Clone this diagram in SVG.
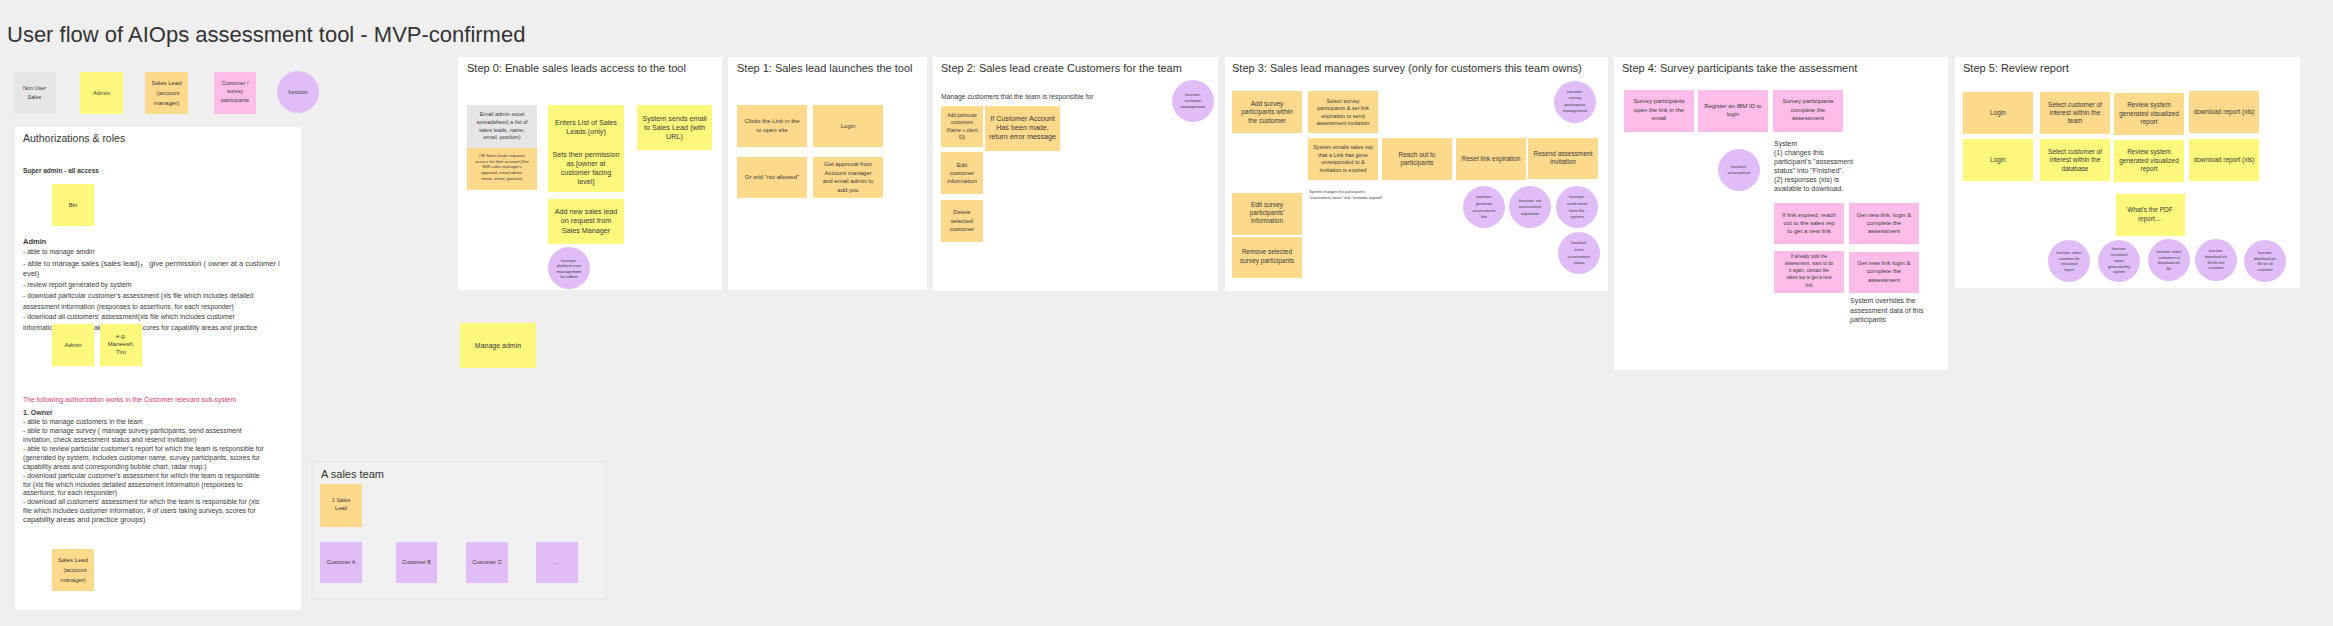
<svg xmlns="http://www.w3.org/2000/svg" width="2333" height="626" viewBox="0 0 2333 626">
<style>
text{font-family:"Liberation Sans","Noto Sans CJK SC",sans-serif;fill:#3a3a3a}
.bg{fill:#efefef}
.panel{fill:#ffffff}
.team{fill:#f0f0f0;stroke:#e3e3e3;stroke-width:1}
.y{fill:#fbf87c}
.o{fill:#fdd98b}
.p{fill:#fdbde8}
.g{fill:#e6e6e6}
.v{fill:#e0bdf7}
.pu{fill:#e1bdf8}
.c{text-anchor:middle}
.h1{font-size:22px;fill:#333}
.h2{font-size:11px;fill:#333}
.h3{font-size:10.5px;fill:#333}
.b{font-weight:bold}
.f3{font-size:3.8px}
.f4{font-size:4.2px}
.f45{font-size:4.6px}
.f5{font-size:5.5px}
.f6{font-size:6px}
.f65{font-size:6.5px}
.f68{font-size:6.8px}
.f7{font-size:7.2px}
.red{fill:#d63b74}
</style>
<rect class="bg" x="0" y="0" width="2333" height="626"/>
<text class="h1" x="7" y="42">User flow of AIOps assessment tool - MVP-confirmed</text>

<g id="legend">
  <g id="leg-nonuser"><rect class="g" x="13" y="72" width="43" height="42"/><text class="c f5" x="34.5" y="90">Non User</text><text class="c f5" x="34.5" y="99">Sales</text></g>
  <g id="leg-admin"><rect class="y" x="80" y="72" width="43" height="42"/><text class="c f6" x="101.5" y="95">Admin</text></g>
  <g id="leg-saleslead"><rect class="o" x="145" y="72" width="43" height="42"/><text class="c f6" x="166.5" y="85">Sales Lead</text><text class="c f6" x="168" y="95">(account</text><text class="c f6" x="166.5" y="105">manager)</text></g>
  <g id="leg-customer"><rect class="p" x="214" y="72" width="42" height="42"/><text class="c f5" x="235" y="85">Customer /</text><text class="c f5" x="235" y="93">survey</text><text class="c f5" x="235" y="102">participants</text></g>
  <g id="leg-function"><circle class="v" cx="298" cy="92" r="21"/><text class="c f5" x="298" y="94">function</text></g>
</g>

<g id="auth-panel">
  <rect class="panel" x="15" y="127" width="286" height="483"/>
  <text class="h3" x="23" y="142">Authorizations &amp; roles</text>
  <text class="b f65" x="23" y="173">Super admin - all access</text>
  <text class="b" x="23" y="244" font-size="7.5">Admin</text>
  <text class="f68" x="23" y="254">- able to manage amdin</text>
  <text x="23" y="266" font-size="7.5">- able to manage sales (sales lead)，  give permission ( owner at a customer l</text>
  <text x="23" y="276" font-size="7.5">evel)</text>
  <text class="f68" x="23" y="287">- review report generated by system</text>
  <text class="f68" x="23" y="298">- download particular customer's assessment (xls file which includes detailed</text>
  <text class="f68" x="23" y="309">assessment information (responses to assertions, for each responder)</text>
  <text class="f68" x="23" y="319">- download all customers' assessment(xls file which includes customer</text>
  <text class="f68" x="23" y="330">information, # of users taking surveys, scores for capability areas and practice</text>
  <text class="f68 red" x="23" y="402">The following authorization works in the Customer relevant sub-system</text>
  <text class="b" x="23" y="415" font-size="7">1. Owner</text>
  <text class="f68" x="23" y="424">- able to manage customers in the team</text>
  <text class="f68" x="23" y="433">- able to manage survey ( manage survey participants, send assessment</text>
  <text class="f68" x="23" y="442">invitation, check assessment status and resend invitation)</text>
  <text class="f68" x="23" y="451">- able to review particular customer's report for which the team is responsible for</text>
  <text class="f68" x="23" y="460">(generated by system, includes customer name, survey participants, scores for</text>
  <text class="f68" x="23" y="469">capability areas and corresponding bubble chart, radar map.)</text>
  <text class="f68" x="23" y="478">- download particular customer's assessment for which the team is responsible</text>
  <text class="f68" x="23" y="487">for (xls file which includes detailed assessment information (responses to</text>
  <text class="f68" x="23" y="495">assertions, for each responder)</text>
  <text class="f68" x="23" y="504">- download all customers' assessment for whch the team is responsible for (xls</text>
  <text class="f68" x="23" y="513">file which includes customer information, # of users taking surveys, scores for</text>
  <text x="23" y="522" font-size="7.5">capability areas and practice groups)</text>
  <g id="auth-bin"><rect class="y" x="52" y="184" width="42" height="42"/><text class="c f6" x="73" y="207">Bin</text></g>
  <g id="auth-admin"><rect class="y" x="52" y="324" width="42" height="42"/><text class="c f6" x="73" y="347">Admin</text></g>
  <g id="auth-eg"><rect class="y" x="100" y="324" width="42" height="42"/><text class="c f6" x="121" y="338">e.g.</text><text class="c f6" x="121" y="346">Maneesh,</text><text class="c f6" x="121" y="354">Tim</text></g>
  <g id="auth-saleslead"><rect class="o" x="52" y="549" width="42" height="42"/><text class="c f6" x="73" y="562">Sales Lead</text><text class="c f6" x="75" y="572">(account</text><text class="c f6" x="73" y="582">manager)</text></g>
</g>

<g id="step0">
  <rect class="panel" x="458" y="57" width="264" height="233"/>
  <text class="h2" x="467" y="72">Step 0: Enable sales leads access to the tool</text>
  <g id="s0-email"><rect class="g" x="467" y="105" width="70" height="43"/><text class="c f5" x="502"><tspan x="502" y="116">Email admin excel</tspan><tspan x="502" y="124">spreadsheet( a list of</tspan><tspan x="502" y="132">sales leads, name,</tspan><tspan x="502" y="139">email, position)</tspan></text></g>
  <g id="s0-or"><rect class="o" x="467" y="148" width="70" height="42"/><text class="c f4" x="502"><tspan x="502" y="157">OR Sales leads requests</tspan><tspan x="502" y="162.5">access for their account (Got</tspan><tspan x="502" y="168">WW sales manager's</tspan><tspan x="502" y="174">approval, email admin,</tspan><tspan x="502" y="180">name, email, position)</tspan></text></g>
  <g id="s0-enters"><rect class="y" x="548" y="105" width="76" height="87"/><text class="c f7" x="586"><tspan x="586" y="125">Enters List of Sales</tspan><tspan x="586" y="134">Leads (only)</tspan><tspan x="586" y="157">Sets their permission</tspan><tspan x="586" y="166">as [owner at</tspan><tspan x="586" y="175">customer facing</tspan><tspan x="586" y="184">level]</tspan></text></g>
  <g id="s0-add"><rect class="y" x="548" y="199" width="76" height="45"/><text class="c f7" x="586"><tspan x="586" y="214">Add new sales lead</tspan><tspan x="586" y="223">on request from</tspan><tspan x="586" y="233">Sales Manager</tspan></text></g>
  <g id="s0-func"><circle class="v" cx="569" cy="268" r="21"/><text class="c f4" x="569"><tspan x="569" y="262">function:</tspan><tspan x="569" y="267">platform user</tspan><tspan x="569" y="272.5">management</tspan><tspan x="569" y="278">for admin</tspan></text></g>
  <g id="s0-system"><rect class="y" x="637" y="105" width="75" height="45"/><text class="c f7" x="674.5"><tspan x="674.5" y="121">System sends email</tspan><tspan x="674.5" y="130">to Sales Lead (with</tspan><tspan x="674.5" y="139">URL)</tspan></text></g>
</g>

<g id="manage-admin"><rect class="y" x="460" y="323" width="76" height="45"/><text class="c" x="498" y="348" font-size="7">Manage admin</text></g>

<g id="step1">
  <rect class="panel" x="728" y="57" width="199" height="233"/>
  <text class="h2" x="737" y="72">Step 1: Sales lead launches the tool</text>
  <g id="s1-click"><rect class="o" x="737" y="105" width="70" height="42"/><text class="c f6" x="772"><tspan x="772" y="123">Clicks the Link in the</tspan><tspan x="772" y="132">to open site</tspan></text></g>
  <g id="s1-login"><rect class="o" x="813" y="105" width="70" height="42"/><text class="c f6" x="848" y="128">Login</text></g>
  <g id="s1-notallowed"><rect class="o" x="737" y="157" width="70" height="41"/><text class="c f6" x="772" y="179">Or told "not allowed"</text></g>
  <g id="s1-approval"><rect class="o" x="813" y="157" width="70" height="41"/><text class="c f6" x="848"><tspan x="848" y="166">Get approval from</tspan><tspan x="848" y="175">Account manager</tspan><tspan x="848" y="183">and email admin to</tspan><tspan x="848" y="192">add you</tspan></text></g>
</g>

<g id="step2">
  <rect class="panel" x="933" y="57" width="285" height="234"/>
  <text class="h2" x="941" y="72">Step 2: Sales lead create Customers for the team</text>
  <text x="941" y="99" font-size="6.8">Manage customers that the team is responsible for</text>
  <g id="s2-func"><circle class="v" cx="1193" cy="101" r="21"/><text class="c f4" x="1193"><tspan x="1193" y="96">function:</tspan><tspan x="1193" y="102">customer</tspan><tspan x="1193" y="108">management</tspan></text></g>
  <g id="s2-add"><rect class="o" x="941" y="106" width="42" height="41"/><text class="c" x="962" font-size="4.8"><tspan x="962" y="117">Add particular</tspan><tspan x="962" y="124">customers</tspan><tspan x="962" y="132">(Name + client</tspan><tspan x="962" y="139">ID)</tspan></text></g>
  <g id="s2-error"><rect class="o" x="985" y="106" width="75" height="45"/><text class="c f7" x="1022.5"><tspan x="1022.5" y="121">If Customer Account</tspan><tspan x="1022.5" y="130">Has been made,</tspan><tspan x="1022.5" y="139">return error message</tspan></text></g>
  <g id="s2-edit"><rect class="o" x="941" y="152" width="42" height="42"/><text class="c f6" x="962"><tspan x="962" y="167">Edit</tspan><tspan x="962" y="175">customer</tspan><tspan x="962" y="183">information</tspan></text></g>
  <g id="s2-delete"><rect class="o" x="941" y="200" width="42" height="42"/><text class="c f6" x="962"><tspan x="962" y="214">Delete</tspan><tspan x="962" y="223">selected</tspan><tspan x="962" y="231">customer</tspan></text></g>
</g>

<g id="step3">
  <rect class="panel" x="1225" y="57" width="383" height="234"/>
  <text class="h2" x="1232" y="72">Step 3: Sales lead manages survey (only for customers this team owns)</text>
  <g id="s3-add"><rect class="o" x="1232" y="91" width="70" height="42"/><text class="c f65" x="1267"><tspan x="1267" y="106">Add survey</tspan><tspan x="1267" y="114">participants within</tspan><tspan x="1267" y="123">the customer</tspan></text></g>
  <g id="s3-select"><rect class="o" x="1308" y="91" width="70" height="42"/><text class="c f5" x="1343"><tspan x="1343" y="103">Select survey</tspan><tspan x="1343" y="110">participants &amp; set link</tspan><tspan x="1343" y="118">expiration to send</tspan><tspan x="1343" y="125">assessment invitation</tspan></text></g>
  <g id="s3-func-spm"><circle class="v" cx="1575" cy="102" r="21"/><text class="c f4" x="1575"><tspan x="1575" y="93">function:</tspan><tspan x="1575" y="99">survey</tspan><tspan x="1575" y="106">participants</tspan><tspan x="1575" y="112">management</tspan></text></g>
  <g id="s3-sysemail"><rect class="o" x="1308" y="138" width="70" height="42"/><text class="c f5" x="1343"><tspan x="1343" y="149">System emails sales rep</tspan><tspan x="1343" y="157">that a Link has gone</tspan><tspan x="1343" y="164">unresponded to  &amp;</tspan><tspan x="1343" y="172">invitation is expired</tspan></text></g>
  <g id="s3-reach"><rect class="o" x="1382" y="138" width="70" height="42"/><text class="c f65" x="1417"><tspan x="1417" y="157">Reach out to</tspan><tspan x="1417" y="165">participants</tspan></text></g>
  <g id="s3-reset"><rect class="o" x="1456" y="138" width="70" height="42"/><text class="c f65" x="1491" y="161">Reset link expiration</text></g>
  <g id="s3-resend"><rect class="o" x="1528" y="138" width="70" height="41"/><text class="c f65" x="1563"><tspan x="1563" y="156">Resend assessment</tspan><tspan x="1563" y="164">invitation</tspan></text></g>
  <text class="f3" x="1309" y="193">System changes this participant's</text>
  <text class="f3" x="1309" y="199">"assessment status" into "invitation expired"</text>
  <g id="s3-func-gen"><circle class="v" cx="1484" cy="207" r="21"/><text class="c f4" x="1484"><tspan x="1484" y="198">function:</tspan><tspan x="1484" y="205">generate</tspan><tspan x="1484" y="212">assessment</tspan><tspan x="1484" y="218">link</tspan></text></g>
  <g id="s3-func-set"><circle class="v" cx="1530" cy="207" r="21"/><text class="c f4" x="1530"><tspan x="1530" y="202">function: set</tspan><tspan x="1530" y="208">assessment</tspan><tspan x="1530" y="215">expiration</tspan></text></g>
  <g id="s3-func-send"><circle class="v" cx="1577" cy="207" r="21"/><text class="c f4" x="1577"><tspan x="1577" y="198">function:</tspan><tspan x="1577" y="205">send email</tspan><tspan x="1577" y="212">from the</tspan><tspan x="1577" y="218">system</tspan></text></g>
  <g id="s3-func-track"><circle class="v" cx="1579" cy="253" r="21"/><text class="c f4" x="1579"><tspan x="1579" y="244">function:</tspan><tspan x="1579" y="251">track</tspan><tspan x="1579" y="258">assessment</tspan><tspan x="1579" y="264">status</tspan></text></g>
  <g id="s3-edit"><rect class="o" x="1232" y="193" width="70" height="42"/><text class="c f65" x="1267"><tspan x="1267" y="207">Edit survey</tspan><tspan x="1267" y="215">participants'</tspan><tspan x="1267" y="223">information</tspan></text></g>
  <g id="s3-remove"><rect class="o" x="1232" y="237" width="70" height="41"/><text class="c f65" x="1267"><tspan x="1267" y="254">Remove selected</tspan><tspan x="1267" y="263">survey participants</tspan></text></g>
</g>

<g id="step4">
  <rect class="panel" x="1614" y="57" width="334" height="313"/>
  <text class="h2" x="1622" y="72">Step 4: Survey participants take the assessment</text>
  <g id="s4-open"><rect class="p" x="1624" y="90" width="70" height="42"/><text class="c f6" x="1659"><tspan x="1659" y="103">Survey participants</tspan><tspan x="1659" y="112">open the link in the</tspan><tspan x="1659" y="120">email</tspan></text></g>
  <g id="s4-register"><rect class="p" x="1698" y="90" width="70" height="42"/><text class="c f6" x="1733"><tspan x="1733" y="108">Register an IBM ID to</tspan><tspan x="1733" y="116">login</tspan></text></g>
  <g id="s4-complete"><rect class="p" x="1773" y="90" width="70" height="42"/><text class="c f6" x="1808"><tspan x="1808" y="103">Survey participants</tspan><tspan x="1808" y="112">complete the</tspan><tspan x="1808" y="120">assessment</tspan></text></g>
  <g id="s4-func"><circle class="v" cx="1739" cy="170" r="21"/><text class="c f4" x="1739"><tspan x="1739" y="168">function:</tspan><tspan x="1739" y="174">assessment</tspan></text></g>
  <text x="1774" font-size="7"><tspan x="1774" y="146">System</tspan><tspan x="1774" y="155">(1) changes this</tspan><tspan x="1774" y="164">participant's "assessment</tspan><tspan x="1774" y="173">status" into "Finished".</tspan><tspan x="1774" y="182">(2) responses (xls) is</tspan><tspan x="1774" y="191">available to download.</tspan></text>
  <g id="s4-expired"><rect class="p" x="1774" y="203" width="70" height="41"/><text class="c f6" x="1809"><tspan x="1809" y="217">If link expired, reach</tspan><tspan x="1809" y="225">out to the sales rep</tspan><tspan x="1809" y="233">to get a new link</tspan></text></g>
  <g id="s4-getnew1"><rect class="p" x="1849" y="203" width="70" height="41"/><text class="c f6" x="1884"><tspan x="1884" y="217">Get new link, login &amp;</tspan><tspan x="1884" y="225">complete the</tspan><tspan x="1884" y="233">assessment</tspan></text></g>
  <g id="s4-already"><rect class="p" x="1774" y="251" width="70" height="42"/><text class="c f45" x="1809"><tspan x="1809" y="258">If already took the</tspan><tspan x="1809" y="265">assessment, want to do</tspan><tspan x="1809" y="272">it again, contact the</tspan><tspan x="1809" y="279">sales rep to get a new</tspan><tspan x="1809" y="287">link</tspan></text></g>
  <g id="s4-getnew2"><rect class="p" x="1849" y="252" width="70" height="41"/><text class="c f6" x="1884"><tspan x="1884" y="265">Get new link login &amp;</tspan><tspan x="1884" y="273">complete the</tspan><tspan x="1884" y="282">assessment</tspan></text></g>
  <text x="1850" font-size="7"><tspan x="1850" y="303">System overrides the</tspan><tspan x="1850" y="313">assessment data of this</tspan><tspan x="1850" y="322">participants</tspan></text>
</g>

<g id="step5">
  <rect class="panel" x="1955" y="57" width="345" height="231"/>
  <text class="h2" x="1963" y="72">Step 5: Review report</text>
  <g id="s5-login1"><rect class="o" x="1963" y="92" width="70" height="42"/><text class="c f65" x="1998" y="115">Login</text></g>
  <g id="s5-select1"><rect class="o" x="2040" y="92" width="70" height="42"/><text class="c f65" x="2075"><tspan x="2075" y="107">Select customer of</tspan><tspan x="2075" y="115">interest within the</tspan><tspan x="2075" y="123">team</tspan></text></g>
  <g id="s5-review1"><rect class="o" x="2114" y="93" width="70" height="42"/><text class="c f65" x="2149"><tspan x="2149" y="107">Review system</tspan><tspan x="2149" y="116">generated visualized</tspan><tspan x="2149" y="124">report</tspan></text></g>
  <g id="s5-dl1"><rect class="o" x="2189" y="91" width="70" height="42"/><text class="c f65" x="2224" y="114">download report (xls)</text></g>
  <g id="s5-login2"><rect class="y" x="1963" y="139" width="70" height="42"/><text class="c f65" x="1998" y="162">Login</text></g>
  <g id="s5-select2"><rect class="y" x="2040" y="139" width="70" height="42"/><text class="c f65" x="2075"><tspan x="2075" y="154">Select customer of</tspan><tspan x="2075" y="162">interest within the</tspan><tspan x="2075" y="171">database</tspan></text></g>
  <g id="s5-review2"><rect class="y" x="2114" y="140" width="70" height="42"/><text class="c f65" x="2149"><tspan x="2149" y="154">Review system</tspan><tspan x="2149" y="163">generated visualized</tspan><tspan x="2149" y="171">report</tspan></text></g>
  <g id="s5-dl2"><rect class="y" x="2189" y="139" width="70" height="42"/><text class="c f65" x="2224" y="162">download report (xls)</text></g>
  <g id="s5-pdf"><rect class="y" x="2116" y="194" width="69" height="42"/><text class="c f65" x="2150"><tspan x="2150" y="212">What's the PDF</tspan><tspan x="2150" y="221">report....</tspan></text></g>
  <g id="s5-func1"><circle class="v" cx="2069" cy="261" r="21"/><text class="c f3" x="2069"><tspan x="2069" y="254">function: select</tspan><tspan x="2069" y="259.5">customer for</tspan><tspan x="2069" y="265">visualized</tspan><tspan x="2069" y="270.5">report</tspan></text></g>
  <g id="s5-func2"><circle class="v" cx="2119" cy="261" r="21"/><text class="c f3" x="2119"><tspan x="2119" y="250">function:</tspan><tspan x="2119" y="256">visualized</tspan><tspan x="2119" y="262">report</tspan><tspan x="2119" y="268">generated by</tspan><tspan x="2119" y="273">system</tspan></text></g>
  <g id="s5-func3"><circle class="v" cx="2169" cy="260" r="21"/><text class="c f3" x="2169"><tspan x="2169" y="253">function: select</tspan><tspan x="2169" y="258.5">customers to</tspan><tspan x="2169" y="264">download xls</tspan><tspan x="2169" y="269.5">file</tspan></text></g>
  <g id="s5-func4"><circle class="v" cx="2216" cy="260" r="21"/><text class="c f3" x="2216"><tspan x="2216" y="252">function:</tspan><tspan x="2216" y="258">download xls</tspan><tspan x="2216" y="263.5">file for the</tspan><tspan x="2216" y="269">customer</tspan></text></g>
  <g id="s5-func5"><circle class="v" cx="2265" cy="261" r="21"/><text class="c f3" x="2265"><tspan x="2265" y="254">function:</tspan><tspan x="2265" y="259.5">download xls</tspan><tspan x="2265" y="265">file for all</tspan><tspan x="2265" y="270.5">customer</tspan></text></g>
</g>

<g id="sales-team">
  <rect class="team" x="312" y="462" width="294" height="137"/>
  <text class="h2" x="321" y="478">A sales team</text>
  <g id="team-lead"><rect class="o" x="320" y="484" width="42" height="43"/><text class="c f5" x="341"><tspan x="341" y="502">1 Sales</tspan><tspan x="341" y="510">Lead</tspan></text></g>
  <g id="team-custA"><rect class="pu" x="320" y="542" width="42" height="41"/><text class="c f5" x="341" y="564">Customer A</text></g>
  <g id="team-custB"><rect class="pu" x="396" y="542" width="41" height="41"/><text class="c f5" x="416.5" y="564">Customer B</text></g>
  <g id="team-custC"><rect class="pu" x="466" y="542" width="42" height="41"/><text class="c f5" x="487" y="564">Customer C</text></g>
  <g id="team-more"><rect class="pu" x="536" y="542" width="42" height="41"/><text class="c f5" x="557" y="564">...</text></g>
</g>

<g id="connectors"/>
</svg>
